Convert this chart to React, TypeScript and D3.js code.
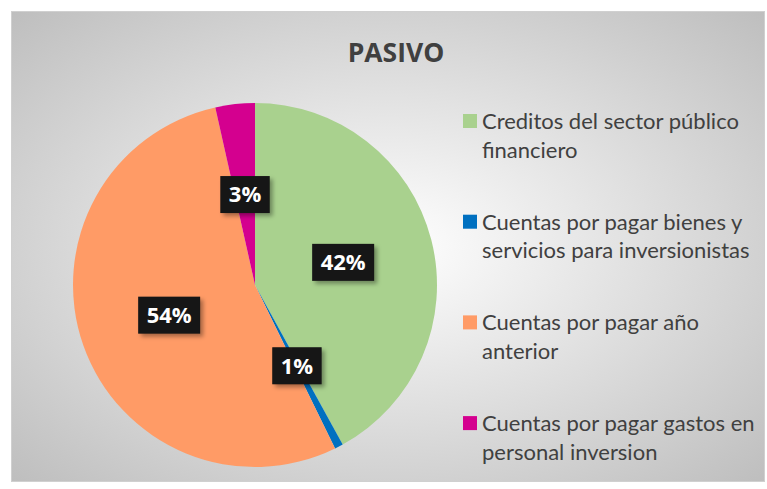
import React, { useEffect, useRef } from "react";
import * as d3 from "d3";

const categories = [
  "Creditos del sector público financiero",
  "Cuentas por pagar bienes y servicios para inversionistas",
  "Cuentas por pagar año anterior",
  "Cuentas por pagar gastos en personal inversion",
];
const legendLines = [
  ["Creditos del sector público", "financiero"],
  ["Cuentas por pagar bienes y", "servicios para inversionistas"],
  ["Cuentas por pagar año", "anterior"],
  ["Cuentas por pagar gastos en", "personal inversion"],
];
const values = [42.0, 0.75, 53.75, 3.5];
const labels = ["42%", "1%", "54%", "3%"];
const colors = ["#a9d18e", "#0070c0", "#ff9b66", "#d4008f"];

const W = 767;
const H = 489;

export default function App() {
  const ref = useRef<SVGSVGElement>(null);
  useEffect(() => {
    const svg = d3.select(ref.current);
    svg.selectAll("*").remove();
    const defs = svg.append("defs");
    const rg = defs
      .append("radialGradient")
      .attr("id", "bg")
      .attr("cx", "50%")
      .attr("cy", "50%")
      .attr("r", "75%");
    rg.append("stop").attr("offset", "0%").attr("stop-color", "#ffffff");
    rg.append("stop").attr("offset", "100%").attr("stop-color", "#bababa");
    const f = defs.append("filter").attr("id", "sh").attr("x", "-20%").attr("y", "-20%").attr("width", "150%").attr("height", "150%");
    f.append("feDropShadow").attr("dx", 3).attr("dy", 3).attr("stdDeviation", 2).attr("flood-color", "#000").attr("flood-opacity", 0.35);

    svg
      .append("rect")
      .attr("x", 11.5)
      .attr("y", 11.5)
      .attr("width", 753)
      .attr("height", 470)
      .attr("fill", "url(#bg)")
      .attr("stroke", "#d0d0d0");

    svg
      .append("text")
      .attr("x", 396)
      .attr("y", 62)
      .attr("text-anchor", "middle")
      .attr("font-family", "Open Sans, sans-serif")
      .attr("font-weight", "bold")
      .attr("font-size", 26.5)
      .attr("fill", "#404040")
      .text("PASIVO");

    const cx = 255, cy = 285, r = 182;
    const pie = d3.pie<number>().sort(null).value((d) => d)(values);
    const arc = d3.arc<d3.PieArcDatum<number>>().innerRadius(0).outerRadius(r);
    const g = svg.append("g").attr("transform", `translate(${cx},${cy})`);
    g.selectAll("path.slice")
      .data(pie)
      .enter()
      .append("path")
      .attr("class", "slice")
      .attr("d", arc)
      .attr("fill", (_d, i) => colors[i]);

    pie.forEach((p, i) => {
      const [x, y] = arc.centroid(p);
      const lg = g.append("g").attr("transform", `translate(${x},${y})`);
      const rect = lg.append("rect").attr("fill", "#161616").attr("filter", "url(#sh)");
      const t = lg
        .append("text")
        .attr("text-anchor", "middle")
        .attr("dy", "0.36em")
        .attr("font-family", "Open Sans, sans-serif")
        .attr("font-weight", "bold")
        .attr("font-size", 22)
        .attr("fill", "#ffffff")
        .text(labels[i]);
      const w = (t.node() as SVGTextElement).getComputedTextLength();
      const bw = w + 17, bh = 37;
      rect.attr("x", -bw / 2).attr("y", -bh / 2).attr("width", bw).attr("height", bh);
    });

    const lgd = svg.append("g");
    legendLines.forEach((lines, i) => {
      const base = 129 + i * 100.7;
      lgd
        .append("rect")
        .attr("x", 463)
        .attr("y", base - 15)
        .attr("width", 14)
        .attr("height", 14)
        .attr("fill", colors[i])
        .append("title")
        .text(categories[i]);
      lines.forEach((ln, j) => {
        lgd
          .append("text")
          .attr("x", 482)
          .attr("y", base + j * 28.5)
          .attr("font-family", "Lato, sans-serif")
          .attr("font-size", 22)
          .attr("fill", "#404040")
          .text(ln);
      });
    });
  }, []);
  return (
    <svg
      ref={ref}
      width={W}
      height={H}
      style={{ position: "absolute", left: 0, top: 0, background: "#ffffff" }}
    />
  );
}
